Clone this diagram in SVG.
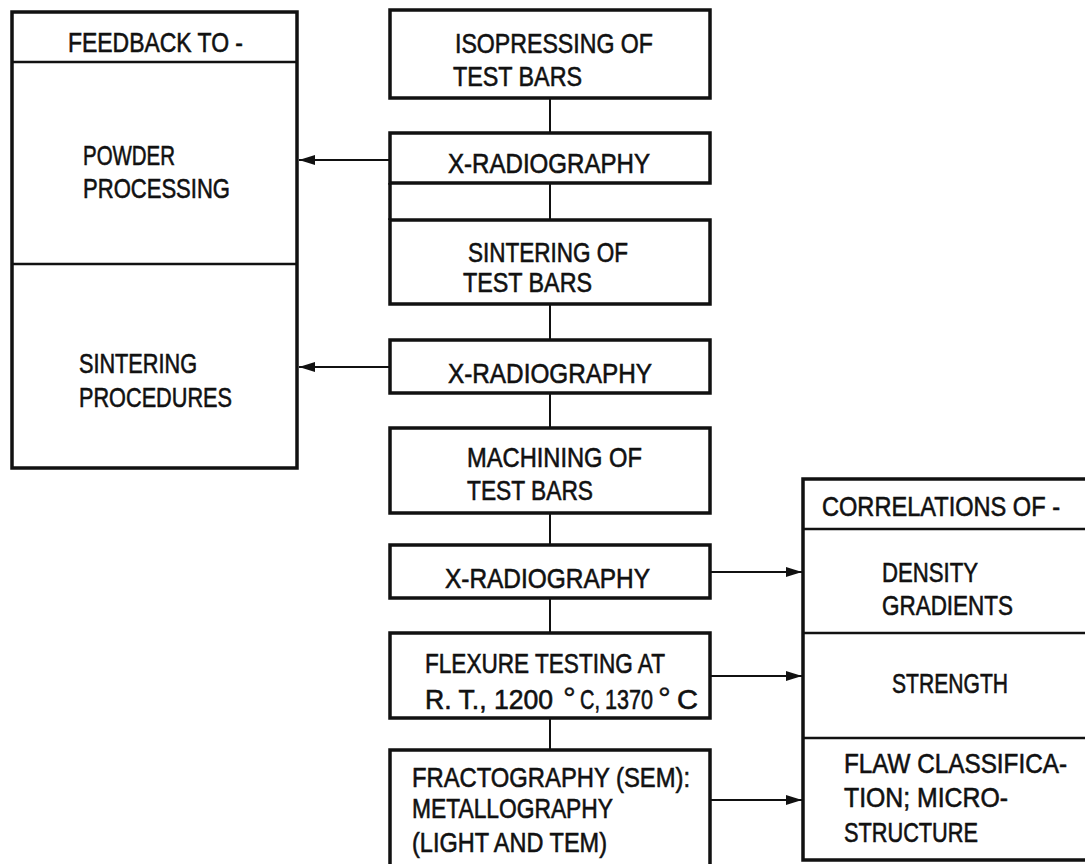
<svg xmlns="http://www.w3.org/2000/svg" width="1085" height="864" viewBox="0 0 1085 864">
<style>
.box{fill:#fff;stroke:#111;stroke-width:3.5}
.open{fill:none;stroke:#111;stroke-width:3.5}
.div{stroke:#111;stroke-width:2.5;fill:none}
.con{stroke:#111;stroke-width:2;fill:none}
.t{font-family:"Liberation Sans",Arial,sans-serif;font-size:28px;fill:#111;stroke:#111;stroke-width:0.6}
.deg{font-size:32px;stroke-width:0.4}
</style>
<defs>
<marker id="ah" markerUnits="userSpaceOnUse" markerWidth="16" markerHeight="11" refX="16" refY="5.5" orient="auto">
<path d="M0,0.5 L16,5.5 L0,10.5 z" fill="#111"/>
</marker>
</defs>
<g id="feedback">
<rect class="box" x="12" y="12" width="285" height="456"/>
<line class="div" x1="12" y1="62" x2="297" y2="62"/>
<line class="div" x1="12" y1="264" x2="297" y2="264"/>
<text class="t" x="68" y="52" textLength="175" lengthAdjust="spacingAndGlyphs">FEEDBACK TO -</text>
<text class="t" x="83" y="165" textLength="92" lengthAdjust="spacingAndGlyphs">POWDER</text>
<text class="t" x="83" y="198" textLength="147" lengthAdjust="spacingAndGlyphs">PROCESSING</text>
<text class="t" x="79" y="373" textLength="118" lengthAdjust="spacingAndGlyphs">SINTERING</text>
<text class="t" x="79" y="407" textLength="153" lengthAdjust="spacingAndGlyphs">PROCEDURES</text>
</g>
<g id="isopressing">
<rect class="box" x="390" y="10" width="320" height="88"/>
<text class="t" x="455" y="53" textLength="198" lengthAdjust="spacingAndGlyphs">ISOPRESSING OF</text>
<text class="t" x="453" y="86" textLength="129" lengthAdjust="spacingAndGlyphs">TEST BARS</text>
</g>
<g id="xray1">
<rect class="box" x="390" y="133" width="320" height="50"/>
<text class="t" x="448" y="173" textLength="202" lengthAdjust="spacingAndGlyphs">X-RADIOGRAPHY</text>
</g>
<g id="sintering">
<rect class="box" x="390" y="220" width="320" height="84"/>
<text class="t" x="468" y="262" textLength="160" lengthAdjust="spacingAndGlyphs">SINTERING OF</text>
<text class="t" x="463" y="292" textLength="129" lengthAdjust="spacingAndGlyphs">TEST BARS</text>
</g>
<g id="xray2">
<rect class="box" x="390" y="340" width="320" height="53"/>
<text class="t" x="448" y="383" textLength="204" lengthAdjust="spacingAndGlyphs">X-RADIOGRAPHY</text>
</g>
<g id="machining">
<rect class="box" x="390" y="428" width="320" height="85"/>
<text class="t" x="467" y="467" textLength="175" lengthAdjust="spacingAndGlyphs">MACHINING OF</text>
<text class="t" x="467" y="500" textLength="126" lengthAdjust="spacingAndGlyphs">TEST BARS</text>
</g>
<g id="xray3">
<rect class="box" x="390" y="545" width="320" height="53"/>
<text class="t" x="445" y="588" textLength="205" lengthAdjust="spacingAndGlyphs">X-RADIOGRAPHY</text>
</g>
<g id="flexure">
<rect class="box" x="390" y="633" width="320" height="85"/>
<text class="t" x="425" y="673" textLength="240" lengthAdjust="spacingAndGlyphs">FLEXURE TESTING AT</text>
<text class="t" y="709"><tspan x="425" textLength="128" lengthAdjust="spacingAndGlyphs">R. T., 1200</tspan><tspan class="deg" x="554"> °</tspan><tspan x="580" textLength="20" lengthAdjust="spacingAndGlyphs">C,</tspan><tspan x="599" textLength="54" lengthAdjust="spacingAndGlyphs"> 1370</tspan><tspan class="deg" x="649"> °</tspan><tspan x="677" textLength="21" lengthAdjust="spacingAndGlyphs">C</tspan></text>
</g>
<g id="fractography">
<path class="open" d="M390,866 V750 H710 V866" fill="#fff"/>
<text class="t" x="412" y="787" textLength="278" lengthAdjust="spacingAndGlyphs">FRACTOGRAPHY (SEM):</text>
<text class="t" x="412" y="818" textLength="201" lengthAdjust="spacingAndGlyphs">METALLOGRAPHY</text>
<text class="t" x="412" y="852" textLength="195" lengthAdjust="spacingAndGlyphs">(LIGHT AND TEM)</text>
</g>
<g id="correlations">
<path class="open" d="M1085,479 H803 V860 H1085"/>
<line class="div" x1="803" y1="529" x2="1085" y2="529"/>
<line class="div" x1="803" y1="633" x2="1085" y2="633"/>
<line class="div" x1="803" y1="738" x2="1085" y2="738"/>
<text class="t" x="822" y="516" textLength="238" lengthAdjust="spacingAndGlyphs">CORRELATIONS OF -</text>
<text class="t" x="882" y="582" textLength="96" lengthAdjust="spacingAndGlyphs">DENSITY</text>
<text class="t" x="882" y="615" textLength="131" lengthAdjust="spacingAndGlyphs">GRADIENTS</text>
<text class="t" x="892" y="693" textLength="116" lengthAdjust="spacingAndGlyphs">STRENGTH</text>
<text class="t" x="844" y="773" textLength="223" lengthAdjust="spacingAndGlyphs">FLAW CLASSIFICA-</text>
<text class="t" x="844" y="807" textLength="164" lengthAdjust="spacingAndGlyphs">TION; MICRO-</text>
<text class="t" x="844" y="842" textLength="134" lengthAdjust="spacingAndGlyphs">STRUCTURE</text>
</g>
<g id="connectors">
<line class="con" x1="550" y1="98" x2="550" y2="133"/>
<line class="con" x1="550" y1="183" x2="550" y2="220"/>
<line class="con" x1="550" y1="304" x2="550" y2="340"/>
<line class="con" x1="550" y1="393" x2="550" y2="428"/>
<line class="con" x1="550" y1="513" x2="550" y2="545"/>
<line class="con" x1="550" y1="598" x2="550" y2="633"/>
<line class="con" x1="550" y1="718" x2="550" y2="750"/>
<line class="box" x1="390" y1="183" x2="390" y2="220"/>
<line class="con" x1="390" y1="160" x2="299" y2="160" marker-end="url(#ah)"/>
<line class="con" x1="390" y1="367" x2="299" y2="367" marker-end="url(#ah)"/>
<line class="con" x1="710" y1="572" x2="802" y2="572" marker-end="url(#ah)"/>
<line class="con" x1="710" y1="676" x2="802" y2="676" marker-end="url(#ah)"/>
<line class="con" x1="710" y1="800" x2="802" y2="800" marker-end="url(#ah)"/>
</g>
</svg>
